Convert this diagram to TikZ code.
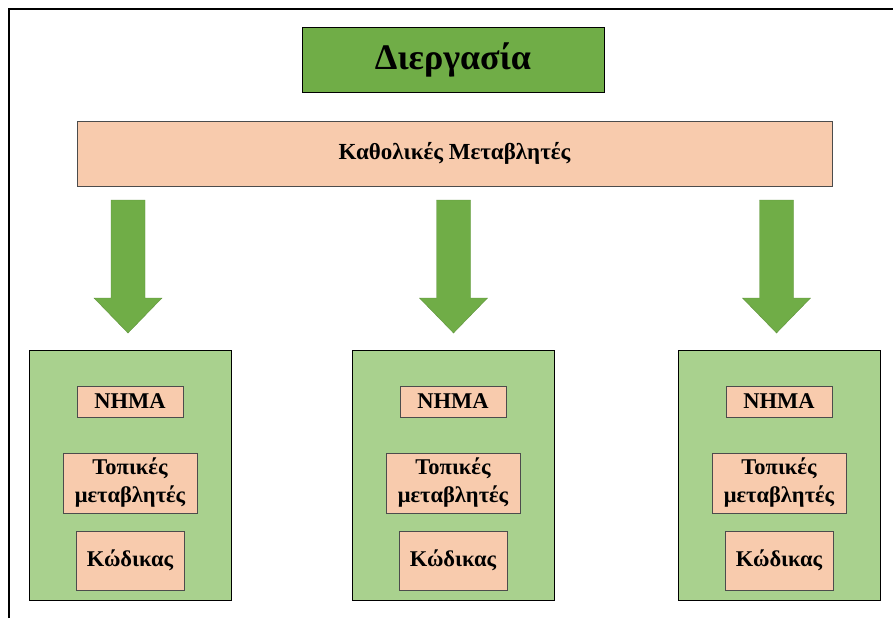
\documentclass[tikz,border=0pt]{standalone}
\usepackage{fontspec}
\setmainfont{Liberation Serif}

\definecolor{darkgreen}{HTML}{70AD47}
\definecolor{lightgreen}{HTML}{A9D18E}
\definecolor{peach}{HTML}{F8CBAD}

\tikzset{
  procbox/.style={draw=black, fill=lightgreen, minimum width=202pt, minimum height=250pt, inner sep=0pt},
  itembox/.style={draw=black!70, fill=peach, inner sep=0pt, align=center,
    font=\bfseries\fontsize{22.5}{28}\selectfont},
  downarrow/.style={draw=darkgreen!85!black, fill=darkgreen}
}

\begin{document}
\begin{tikzpicture}[x=1pt,y=-1pt]

  \useasboundingbox (0,0) rectangle (893,618);

  % Frame
  \draw[line width=1.5pt] (9,618) -- (9,9) -- (893,9);

  % Title
  \node[draw=black, fill=darkgreen, minimum width=302pt, minimum height=65pt,
    font=\bfseries\fontsize{36}{40}\selectfont] (title) at (453,59.5) {Διεργασία};

  % Global variables
  \node[draw=black!70, fill=peach, minimum width=755pt, minimum height=65pt,
    font=\bfseries\fontsize{23}{27}\selectfont] (global) at (454.5,153.5) {Καθολικές Μεταβλητές};

  % Arrows
  \foreach \cx in {128,453.5,776.5}
    \filldraw[downarrow] (\cx-17,200) -- (\cx+17,200) -- (\cx+17,298) -- (\cx+34,298)
      -- (\cx,333) -- (\cx-34,298) -- (\cx-17,298) -- cycle;

  % Processes
  \node[procbox] (procA) at (130,475) {};
  \node[procbox] (procB) at (453,475) {};
  \node[procbox] (procC) at (779,475) {};

  % Contents
  \node[itembox, minimum width=106pt, minimum height=31pt] (msgA) at (130,401.5) {ΝΗΜΑ};
  \node[itembox, minimum width=134pt, minimum height=60pt] (localA) at (130,483) {Τοπικές\\μεταβλητές};
  \node[itembox, minimum width=108pt, minimum height=59pt] (codeA) at (130,560.5) {Κώδικας};

  \node[itembox, minimum width=106pt, minimum height=31pt] (msgB) at (453,401.5) {ΝΗΜΑ};
  \node[itembox, minimum width=134pt, minimum height=60pt] (localB) at (453,483) {Τοπικές\\μεταβλητές};
  \node[itembox, minimum width=108pt, minimum height=59pt] (codeB) at (453,560.5) {Κώδικας};

  \node[itembox, minimum width=106pt, minimum height=31pt] (msgC) at (779,401.5) {ΝΗΜΑ};
  \node[itembox, minimum width=134pt, minimum height=60pt] (localC) at (779,483) {Τοπικές\\μεταβλητές};
  \node[itembox, minimum width=108pt, minimum height=59pt] (codeC) at (779,560.5) {Κώδικας};

\end{tikzpicture}
\end{document}
